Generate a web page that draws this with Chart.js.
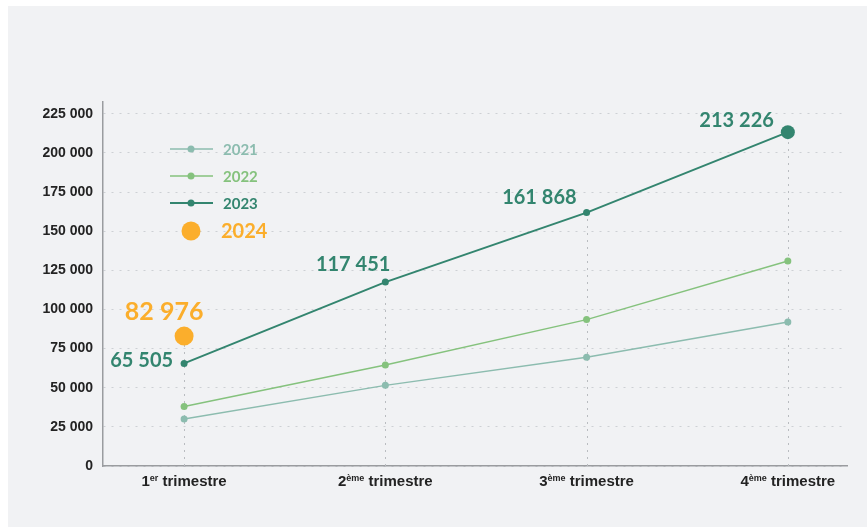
<!DOCTYPE html>
<html lang="fr">
<head>
<meta charset="utf-8">
<script src="https://cdn.jsdelivr.net/npm/chart.js@4/dist/chart.umd.min.js"></script>
<style>
  html, body { margin: 0; padding: 0; background: #fff; }
</style>
</head>
<body>
<canvas id="chart" width="867" height="527"></canvas>
<script>
// data
const quarterNums = ['1', '2', '3', '4'];
const quarterSups = ['er', 'ème', 'ème', 'ème'];
const seriesNames = ['2021', '2022', '2023', '2024'];
const values2021 = [30000, 51500, 69500, 92000];
const values2022 = [38000, 64500, 93500, 131000];
const values2023 = [65505, 117451, 161868, 213226];
const values2024 = [82976];
const yTicks = [0, 25000, 50000, 75000, 100000, 125000, 150000, 175000, 200000, 225000];

const colors = ['#8cbcaf', '#85c27d', '#33856f', '#fbae2c'];
const panelColor = '#f1f2f4';

function fmt(v) {
    return String(v).replace(/\B(?=(\d{3})+(?!\d))/g, ' ');
}

function toPoints(values) {
    return values.map((v, i) => ({ x: i, y: v }));
}

// where the value labels sit relative to their point
const labelPos2023 = [
    { dx: -11, dy: -3, align: 'right', base: 'middle' },
    { dx: 5, dy: -11, align: 'right', base: 'alphabetic' },
    { dx: -10, dy: -9, align: 'right', base: 'alphabetic' },
    { dx: -14, dy: -5, align: 'right', base: 'alphabetic' }
];
const labelPos2024 = [{ dx: -20, dy: -16, align: 'center', base: 'alphabetic' }];

const panelPlugin = {
    id: 'panel',
    beforeDraw(chart) {
        const ctx = chart.ctx;
        ctx.save();
        ctx.fillStyle = '#ffffff';
        ctx.fillRect(0, 0, chart.width, chart.height);
        ctx.fillStyle = panelColor;
        ctx.fillRect(8, 6, chart.width - 8, chart.height - 6);
        ctx.restore();
    }
};

// dotted vertical lines from the axis up to the highest point of each quarter
const dropLines = {
    id: 'dropLines',
    beforeDatasetsDraw(chart) {
        const ctx = chart.ctx;
        const xs = chart.scales.x, ys = chart.scales.y;
        ctx.save();
        ctx.strokeStyle = '#b9bcc0';
        ctx.lineWidth = 1;
        ctx.setLineDash([2, 5]);
        quarterNums.forEach((q, i) => {
            let top = 0;
            chart.data.datasets.forEach(ds => {
                const p = ds.data.find(d => d.x === i);
                if (p && p.y > top) top = p.y;
            });
            const x = Math.round(xs.getPixelForValue(i)) + 0.5;
            ctx.beginPath();
            ctx.moveTo(x, ys.getPixelForValue(0));
            ctx.lineTo(x, ys.getPixelForValue(top));
            ctx.stroke();
        });
        ctx.restore();
    }
};

// value labels for 2023 and 2024
const valueLabels = {
    id: 'valueLabels',
    afterDatasetsDraw(chart) {
        const ctx = chart.ctx;
        ctx.save();
        const draw = (dsIndex, positions, size) => {
            const meta = chart.getDatasetMeta(dsIndex);
            const ds = chart.data.datasets[dsIndex];
            ctx.font = 'bold ' + size + 'px Lato';
            ctx.fillStyle = colors[dsIndex];
            meta.data.forEach((el, i) => {
                const p = positions[i];
                ctx.textAlign = p.align;
                ctx.textBaseline = p.base;
                ctx.fillText(fmt(ds.data[i].y), el.x + p.dx, el.y + p.dy);
            });
        };
        draw(2, labelPos2023, 20);
        draw(3, labelPos2024, 25);
        ctx.restore();
    }
};

// quarter labels with superscript suffix
const quarterLabels = {
    id: 'quarterLabels',
    afterDraw(chart) {
        const ctx = chart.ctx;
        const xs = chart.scales.x;
        ctx.save();
        ctx.fillStyle = '#232323';
        ctx.textBaseline = 'alphabetic';
        ctx.textAlign = 'left';
        const big = 'bold 15px "Liberation Sans", Arial, sans-serif';
        const small = 'bold 9px "Liberation Sans", Arial, sans-serif';
        quarterNums.forEach((n, i) => {
            ctx.font = big;
            const w1 = ctx.measureText(n).width;
            const w3 = ctx.measureText(' trimestre').width;
            ctx.font = small;
            const w2 = ctx.measureText(quarterSups[i]).width;
            let x = xs.getPixelForValue(i) - (w1 + w2 + w3) / 2;
            const y = 486;
            ctx.font = big;
            ctx.fillText(n, x, y);
            x += w1;
            ctx.font = small;
            ctx.fillText(quarterSups[i], x, y - 5);
            x += w2;
            ctx.font = big;
            ctx.fillText(' trimestre', x, y);
        });
        ctx.restore();
    }
};

const legendRows = [149, 176, 203, 231];
const customLegend = {
    id: 'customLegend',
    afterDraw(chart) {
        const ctx = chart.ctx;
        ctx.save();
        ctx.textBaseline = 'middle';
        ctx.textAlign = 'left';
        seriesNames.forEach((name, i) => {
            const y = legendRows[i];
            ctx.fillStyle = colors[i];
            ctx.strokeStyle = colors[i];
            if (i < 3) {
                ctx.lineWidth = i === 2 ? 2 : 1.5;
                ctx.beginPath();
                ctx.moveTo(170, y);
                ctx.lineTo(213, y);
                ctx.stroke();
                ctx.beginPath();
                ctx.arc(191, y, 3.5, 0, Math.PI * 2);
                ctx.fill();
                ctx.font = 'bold 15px Lato';
                ctx.fillText(name, 223, y + 1);
            } else {
                ctx.beginPath();
                ctx.arc(191, y, 9.5, 0, Math.PI * 2);
                ctx.fill();
                ctx.font = 'bold 20px Lato';
                ctx.fillText(name, 221, y + 1);
            }
        });
        ctx.restore();
    }
};

function lineSet(i, values, width, radius) {
    return {
        label: seriesNames[i],
        data: toPoints(values),
        borderColor: colors[i],
        backgroundColor: colors[i],
        borderWidth: width,
        pointRadius: radius,
        pointBorderWidth: 0,
        pointHoverRadius: radius,
        tension: 0
    };
}

const datasets = [
    lineSet(0, values2021, 1.5, 3.5),
    lineSet(1, values2022, 1.5, 3.5),
    lineSet(2, values2023, 2, [3.5, 3.5, 3.5, 7]),
    Object.assign(lineSet(3, values2024, 0, 9.5), { showLine: false })
];

new Chart(document.getElementById('chart'), {
    type: 'line',
    data: { datasets: datasets },
    plugins: [panelPlugin, dropLines, valueLabels, quarterLabels, customLegend],
    options: {
        responsive: false,
        animation: false,
        layout: { padding: { top: 102, right: 20, left: 0, bottom: 0 } },
        plugins: {
            legend: { display: false },
            tooltip: { enabled: false }
        },
        scales: {
            x: {
                type: 'linear',
                min: -0.403,
                max: 3.294,
                ticks: { display: false },
                grid: { display: false },
                border: { color: '#9a9c9f', width: 1.5 },
                afterFit(scale) { scale.height = 61; }
            },
            y: {
                min: 0,
                max: 232500,
                afterBuildTicks(scale) {
                    scale.ticks = yTicks.map(v => ({ value: v }));
                },
                ticks: {
                    padding: 10,
                    color: '#232323',
                    font: { family: '"Liberation Sans", Arial, sans-serif', size: 14, weight: 'bold' },
                    callback: v => fmt(v)
                },
                grid: { color: '#cdd0d4', drawTicks: false, lineWidth: 1 },
                border: { color: '#9a9c9f', width: 1.5, dash: [2, 6] },
                afterFit(scale) { scale.width = 103; }
            }
        }
    }
});
</script>
</body>
</html>
